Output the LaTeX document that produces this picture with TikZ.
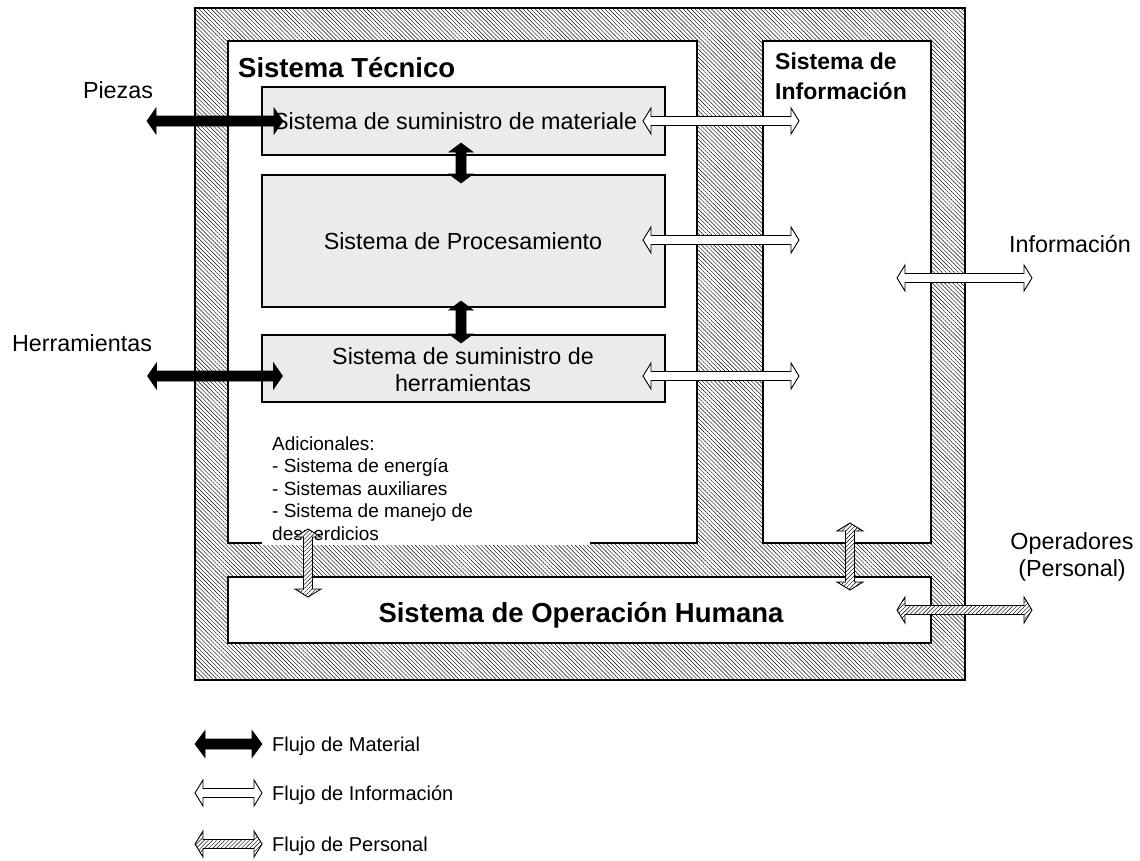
\documentclass[tikz,border=0pt]{standalone}
\usepackage{fontspec}
\setmainfont{Liberation Sans}
\usetikzlibrary{patterns.meta,calc}

\tikzset{
  x=1pt, y=-1pt,
  boxline/.style={draw=black, line width=1.2pt},
  framebox/.style={boxline, pattern={Lines[angle=-45, distance=2.9pt, line width=0.45pt]},
    inner sep=0pt, outer sep=0pt, anchor=north west},
  sysbox/.style={boxline, fill=white, inner sep=0pt, outer sep=0pt, anchor=north west},
  subbox/.style={boxline, fill=black!8, inner sep=0pt, outer sep=0pt, anchor=north west},
  lbl/.style={inner sep=0pt, font=\fontsize{23.3}{27}\selectfont},
  smalllbl/.style={inner sep=0pt, anchor=base west, font=\fontsize{19}{22}\selectfont},
  legendlbl/.style={inner sep=0pt, anchor=base west, font=\fontsize{20}{24}\selectfont},
  title/.style={inner sep=0pt, font=\bfseries\fontsize{23}{27}\selectfont},
  bigtitle/.style={inner sep=0pt, font=\bfseries\fontsize{27.5}{32}\selectfont},
  matflow/.style={fill=black, draw=black, line width=0.6pt},
  infoflow/.style={fill=white, draw=black, line width=0.9pt},
  persflow/.style={pattern={Lines[angle=45, distance=2.9pt, line width=0.45pt]},
    draw=black, line width=0.9pt},
  % block arrow with two heads: length / shaft half width / head half width / head length
  pics/dblarrow/.style args={#1/#2/#3/#4}{code={
    \fill[white] ({-#1/2},0) -- ({-#1/2+#4},#3) -- ({-#1/2+#4},#2) -- ({#1/2-#4},#2)
      -- ({#1/2-#4},#3) -- ({#1/2},0) -- ({#1/2-#4},-#3) -- ({#1/2-#4},-#2)
      -- ({-#1/2+#4},-#2) -- ({-#1/2+#4},-#3) -- cycle;
    \path[pic actions] ({-#1/2},0) -- ({-#1/2+#4},#3) -- ({-#1/2+#4},#2) -- ({#1/2-#4},#2)
      -- ({#1/2-#4},#3) -- ({#1/2},0) -- ({#1/2-#4},-#3) -- ({#1/2-#4},-#2)
      -- ({-#1/2+#4},-#2) -- ({-#1/2+#4},-#3) -- cycle;
  }},
}

\begin{document}
\begin{tikzpicture}
\useasboundingbox (0,0) rectangle (1140,860);

% hatched plant frame and the three systems
\node[framebox, minimum width=770pt, minimum height=672pt] (plant) at (195,8) {};
\node[sysbox, minimum width=469pt, minimum height=502pt] (tec) at (228,41) {};
\node[sysbox, minimum width=168pt, minimum height=502pt] (info) at (763,41) {};
\node[sysbox, minimum width=703pt, minimum height=66pt] (human) at (228,577) {};

% subsystems of the technical system
\node[subbox, minimum width=403pt, minimum height=68pt] (mat) at (262,87) {};
\node[subbox, minimum width=403pt, minimum height=132pt] (proc) at (262,175) {};
\node[subbox, minimum width=403pt, minimum height=67pt] (herr) at (262,335) {};

% titles
\node[bigtitle, anchor=base west] (tectitle) at (238,77) {Sistema Técnico};
\node[title, anchor=base west] (infotitle1) at (775,69) {Sistema de};
\node[title, anchor=base west] (infotitle2) at (775,99) {Información};
\node[bigtitle, anchor=base] (humantitle) at (581,622) {Sistema de Operación Humana};

% subsystem labels
\node[lbl, anchor=base west] (matlbl) at (273,129) {Sistema de suministro de materiale};
\node[lbl, anchor=base] (proclbl) at (463,249) {Sistema de Procesamiento};
\node[lbl, anchor=base] (herrlbl1) at (463,364) {Sistema de suministro de};
\node[lbl, anchor=base] (herrlbl2) at (463,391) {herramientas};

% additional systems, on a white patch over the lower border
\fill[white] (262,425) rectangle (590,544.5);
\node[smalllbl] (add1) at (272,450) {Adicionales:};
\node[smalllbl] (add2) at (272,472.5) {- Sistema de energía};
\node[smalllbl] (add3) at (272,495) {- Sistemas auxiliares};
\node[smalllbl] (add4) at (272,517.5) {- Sistema de manejo de};
\node[smalllbl] (add5) at (272,540) {desperdicios};

% outside labels
\node[lbl, anchor=base] (piezas) at (118,98) {Piezas};
\node[lbl, anchor=base] (tools) at (82,351) {Herramientas};
\node[lbl, anchor=base] (infolbl) at (1070,252) {Información};
\node[lbl, anchor=base] (oper1) at (1072,549) {Operadores};
\node[lbl, anchor=base] (oper2) at (1072,576) {(Personal)};

% material flows
\pic[matflow] at (215,121) {dblarrow=136/5/13/9};
\pic[matflow] at (215,376) {dblarrow=135/5/13/9};
\pic[matflow, rotate=90] at (461,163) {dblarrow=40/5/12/9};
\pic[matflow, rotate=90] at (461,322) {dblarrow=42/5/12/9};

% information flows
\pic[infoflow] at (721,121) {dblarrow=156/4.5/13/8};
\pic[infoflow] at (721,240) {dblarrow=156/4.5/13/8};
\pic[infoflow] at (721,376) {dblarrow=156/4.5/13/8};
\pic[infoflow] at (964.5,278) {dblarrow=135/4.5/13/8};

% personnel flows
\pic[persflow, rotate=90] at (308,563) {dblarrow=68/4.5/13/8};
\pic[persflow, rotate=90] at (850,556.5) {dblarrow=67/4.5/13/8};
\pic[persflow] at (964.5,610) {dblarrow=135/4.5/13/8};

% legend
\pic[matflow] at (228.5,744) {dblarrow=67/5/13.5/10};
\pic[infoflow] at (228.5,793) {dblarrow=67/4.5/13/8};
\pic[persflow] at (228.5,844) {dblarrow=67/4.5/13/8};
\node[legendlbl] (leg1) at (272,751) {Flujo de Material};
\node[legendlbl] (leg2) at (272,800) {Flujo de Información};
\node[legendlbl] (leg3) at (272,851) {Flujo de Personal};
\end{tikzpicture}
\end{document}
